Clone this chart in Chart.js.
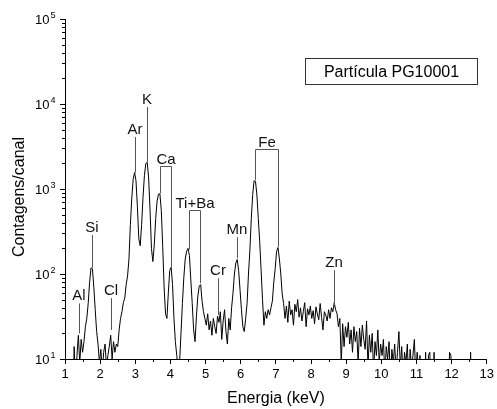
<!DOCTYPE html>
<html>
<head>
<meta charset="utf-8">
<script src="https://cdn.jsdelivr.net/npm/chart.js@4.4.0/dist/chart.umd.min.js"></script>
<style>
  body { margin: 0; background: #fff; }
  #wrap { width: 497px; height: 409px; }
</style>
</head>
<body>
<div id="wrap"><canvas id="spec" width="497" height="409"></canvas></div>
<script>
// channel calibration of the spectrum
const startKeV = 1.22;
const stepKeV = 0.04;

// counts per channel (values < 10 fall below the axis)
const counts = [
  2, 14, 5, 11, 19, 9, 17, 12, 16, 24,
  30, 45, 80, 118, 115, 70, 38, 21, 15, 9,
  13, 7, 12, 15, 8, 11, 14, 19, 10, 16,
  12, 15, 14, 22, 30, 36, 46, 52, 75, 95,
  150, 380, 780, 1300, 1560, 1250, 620, 260, 215, 380,
  800, 1450, 2000, 2050, 1350, 560, 200, 140, 220, 450,
  720, 870, 880, 560, 210, 70, 34, 30, 60, 110,
  120, 75, 30, 16, 11, 7, 9, 20, 45, 90,
  150, 185, 200, 165, 85, 45, 22, 16, 32, 55,
  72, 75, 48, 36, 30, 25, 34, 22, 28, 19,
  30, 24, 20, 32, 27, 36, 17, 28, 38, 21,
  15, 30, 22, 40, 60, 100, 135, 148, 110, 65,
  38, 24, 21, 30, 45, 100, 190, 450, 860, 1250,
  1230, 850, 450, 240, 110, 50, 25, 36, 30, 38,
  33, 40, 48, 80, 115, 185, 205, 150, 100, 58,
  45, 30, 42, 27, 48, 33, 38, 25, 44, 36,
  50, 31, 40, 28, 36, 46, 24, 39, 33, 42,
  30, 37, 26, 41, 34, 29, 45, 31, 22, 36,
  33, 28, 38, 30, 40, 36, 46, 38, 34, 24,
  30, 9, 26, 14, 24, 18, 27, 15, 22, 12,
  24, 16, 21, 9, 23, 14, 25, 17, 13, 28,
  8, 19, 12, 20, 7, 16, 11, 22, 9, 15,
  11, 17, 6, 14, 10, 16, 5, 13, 9, 15,
  7, 12, 21, 8, 14, 6, 12, 9, 15, 5,
  13, 8, 11, 17, 6, 12, 4, 11, 3, 2,
  2, 12, 2, 11, 12, 2, 2, 12, 2, 2,
  2, 2, 2, 2, 2, 2, 2, 2, 12, 11,
  2, 2, 2, 2, 2, 2, 2, 2, 2, 2,
  2, 2, 2, 12, 2, 2
];

// single-line element markers
const lineLabels = ["Al", "Si", "Cl", "Ar", "K", "Cr", "Mn", "Zn"];
const lineKeV = [1.40, 1.76, 2.30, 2.98, 3.33, 5.35, 5.90, 8.66];
const lineTop = [45, 287, 52, 4080, 9230, 89, 271, 111];
const lineFoot = [20, 118, 22, 1550, 2070, 33, 153, 43];

// bracketed pairs (Ka / Kb)
const pairLabels = ["Ca", "Ti+Ba", "Fe"];
const pairKeV1 = [3.695, 4.515, 6.40];
const pairKeV2 = [4.006, 4.855, 7.05];
const pairTop = [1860, 564, 2920];
const pairFoot1 = [887, 195, 1270];
const pairFoot2 = [121, 78, 209];

const decades = [1, 2, 3, 4, 5];
const legendText = "Partícula PG10001";

const FONT = "'Liberation Sans', Arial, sans-serif";

const points = counts.map((c, i) => ({ x: startKeV + i * stepKeV, y: c }));

const extras = {
  id: "extras",
  afterDraw(chart) {
    const ctx = chart.ctx;
    const xs = chart.scales.x, ys = chart.scales.y;
    const a = chart.chartArea;
    ctx.save();
    ctx.strokeStyle = "#000";
    ctx.lineWidth = 1;

    // y ticks (major + minor) and labels 10^n
    decades.forEach((d) => {
      const v = Math.pow(10, d);
      const y = Math.round(ys.getPixelForValue(v)) + 0.5;
      ctx.beginPath();
      ctx.moveTo(a.left - 5, y);
      ctx.lineTo(a.left, y);
      ctx.stroke();
      if (d < 5) {
        for (let m = 2; m <= 9; m++) {
          const ym = Math.round(ys.getPixelForValue(m * v)) + 0.5;
          ctx.beginPath();
          ctx.moveTo(a.left - 3, ym);
          ctx.lineTo(a.left, ym);
          ctx.stroke();
        }
      }
      ctx.fillStyle = "#000";
      ctx.font = "13px " + FONT;
      ctx.textAlign = "right";
      ctx.textBaseline = "middle";
      ctx.fillText("10", 49.5, y + 1);
      ctx.font = "9px " + FONT;
      ctx.textAlign = "left";
      ctx.fillText(String(d), 50.5, y - 4);
    });

    // x minor ticks at half keV
    for (let e = 1.5; e < 13; e += 1) {
      const x = Math.round(xs.getPixelForValue(e)) + 0.5;
      ctx.beginPath();
      ctx.moveTo(x, a.bottom);
      ctx.lineTo(x, a.bottom + 3);
      ctx.stroke();
    }

    // y title
    ctx.save();
    ctx.translate(20, 197);
    ctx.rotate(-Math.PI / 2);
    ctx.font = "16px " + FONT;
    ctx.textAlign = "center";
    ctx.textBaseline = "middle";
    ctx.fillStyle = "#000";
    ctx.fillText("Contagens/canal", 0, 0);
    ctx.restore();

    // element markers
    ctx.strokeStyle = "#555";
    ctx.fillStyle = "#111";
    ctx.font = "15px " + FONT;
    ctx.textAlign = "center";
    ctx.textBaseline = "alphabetic";
    lineLabels.forEach((lab, i) => {
      const x = Math.round(xs.getPixelForValue(lineKeV[i])) + 0.5;
      const yt = ys.getPixelForValue(lineTop[i]);
      const yb = ys.getPixelForValue(lineFoot[i]);
      ctx.beginPath();
      ctx.moveTo(x, yt);
      ctx.lineTo(x, yb);
      ctx.stroke();
      ctx.fillText(lab, x - 0.5, yt - 3);
    });
    pairLabels.forEach((lab, i) => {
      const x1 = Math.round(xs.getPixelForValue(pairKeV1[i])) + 0.5;
      const x2 = Math.round(xs.getPixelForValue(pairKeV2[i])) + 0.5;
      const yt = Math.round(ys.getPixelForValue(pairTop[i])) + 0.5;
      ctx.beginPath();
      ctx.moveTo(x1, ys.getPixelForValue(pairFoot1[i]));
      ctx.lineTo(x1, yt);
      ctx.lineTo(x2, yt);
      ctx.lineTo(x2, ys.getPixelForValue(pairFoot2[i]));
      ctx.stroke();
      ctx.fillText(lab, (x1 + x2) / 2, yt - 3);
    });

    // legend box
    const bx = a.left + 240.5, by = a.top + 39.5, bw = 172, bh = 26;
    ctx.strokeStyle = "#333";
    ctx.strokeRect(bx, by, bw, bh);
    ctx.fillStyle = "#000";
    ctx.font = "16px " + FONT;
    ctx.textBaseline = "middle";
    ctx.fillText(legendText, bx + bw / 2, by + bh / 2 + 1);
    ctx.restore();
  }
};

new Chart(document.getElementById("spec"), {
  type: "line",
  data: {
    datasets: [{
      data: points,
      borderColor: "#000",
      borderWidth: 1,
      pointRadius: 0,
      tension: 0,
      fill: false
    }]
  },
  options: {
    responsive: false,
    animation: false,
    layout: { padding: { left: 0, right: 8, top: 19, bottom: 0 } },
    plugins: { legend: { display: false }, tooltip: { enabled: false } },
    scales: {
      x: {
        type: "linear",
        min: 1,
        max: 13,
        afterFit: (s) => { s.height = 50; },
        ticks: { stepSize: 1, color: "#000", padding: 3, font: { family: FONT, size: 13 } },
        grid: { display: true, drawOnChartArea: false, drawTicks: true, tickLength: 5, color: "#000" },
        border: { display: true, color: "#000", width: 1 },
        title: { display: true, text: "Energia (keV)", color: "#000", font: { family: FONT, size: 16 }, padding: { top: 0, bottom: 1 } }
      },
      y: {
        type: "logarithmic",
        min: 10,
        max: 100000,
        afterFit: (s) => { s.width = 65; },
        ticks: { display: false },
        grid: { display: false },
        border: { display: true, color: "#000", width: 1 }
      }
    }
  },
  plugins: [extras]
});
</script>
</body>
</html>
